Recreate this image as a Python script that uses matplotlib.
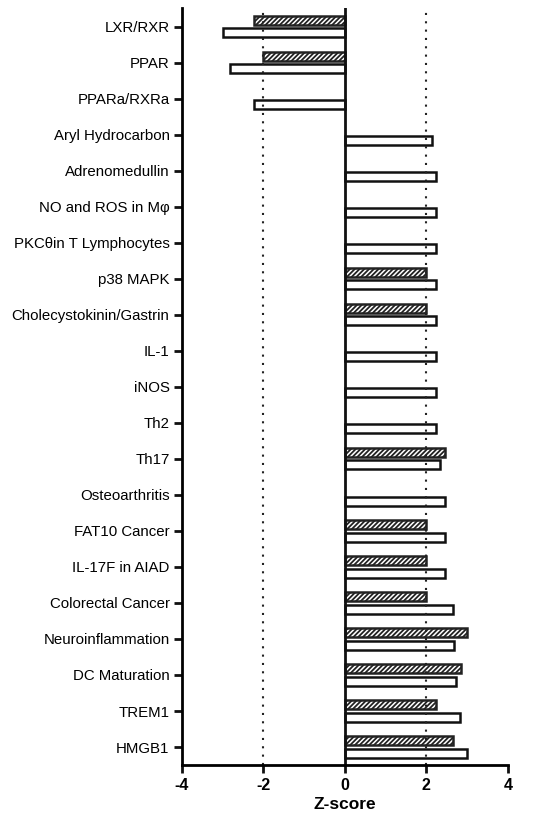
import numpy as np
import matplotlib
matplotlib.use("Agg")
import matplotlib.pyplot as plt

plt.rcParams['font.family'] = ['Liberation Sans', 'DejaVu Sans']
plt.rcParams['hatch.linewidth'] = 1.3

pathways = ['LXR/RXR', 'PPAR', 'PPARa/RXRa', 'Aryl Hydrocarbon', 'Adrenomedullin',
            'NO and ROS in M\u03c6', 'PKC\u03b8in T Lymphocytes', 'p38 MAPK',
            'Cholecystokinin/Gastrin', 'IL-1', 'iNOS', 'Th2', 'Th17', 'Osteoarthritis',
            'FAT10 Cancer', 'IL-17F in AIAD', 'Colorectal Cancer', 'Neuroinflammation',
            'DC Maturation', 'TREM1', 'HMGB1']

# hatched series (nan = no bar)
z_hatched = [-2.24, -2.0, np.nan, np.nan, np.nan, np.nan, np.nan, 2.0,
             2.0, np.nan, np.nan, np.nan, 2.45, np.nan,
             2.0, 2.0, 2.0, 3.0, 2.84, 2.24, 2.65]
# open series
z_open = [-3.0, -2.83, -2.24, 2.14, 2.24, 2.24, 2.24, 2.24,
          2.24, 2.24, 2.24, 2.24, 2.33, 2.45,
          2.45, 2.45, 2.65, 2.67, 2.73, 2.83, 3.0]

xticks = [-4, -2, 0, 2, 4]

fig = plt.figure(figsize=(5.59, 8.15), dpi=100)
ax = fig.add_axes([0.3256, 0.0613, 0.583, 0.929])

y = np.arange(len(pathways))
h = 0.25
off = 0.17
ax.barh(y - off, z_hatched, height=h, color='white', edgecolor='#222222',
        hatch='///////', linewidth=1.8)
ax.barh(y + off, z_open, height=h, color='white', edgecolor='#111111', linewidth=1.8)

ax.axvline(-2, color='#222222', linestyle=(0, (1, 3)), linewidth=1.5)
ax.axvline(2, color='#222222', linestyle=(0, (1, 3)), linewidth=1.5)
ax.axvline(0, color='#111111', linewidth=2.0)

ax.set_ylim(len(pathways) - 0.5, -0.52)
ax.set_xlim(-4, 4)
ax.set_yticks(y)
ax.set_yticklabels(pathways, fontsize=10.8)
ax.set_xticks(xticks)
ax.set_xticklabels([str(t) for t in xticks], fontsize=11.5, fontweight='bold')
ax.set_xlabel('Z-score', fontsize=12.5, fontweight='bold', labelpad=3)

ax.spines['top'].set_visible(False)
ax.spines['right'].set_visible(False)
ax.spines['left'].set_linewidth(2.0)
ax.spines['bottom'].set_linewidth(2.0)
ax.tick_params(axis='both', width=2.0, length=6, color='#111111', pad=3)

fig.savefig('out.png', dpi=100)
